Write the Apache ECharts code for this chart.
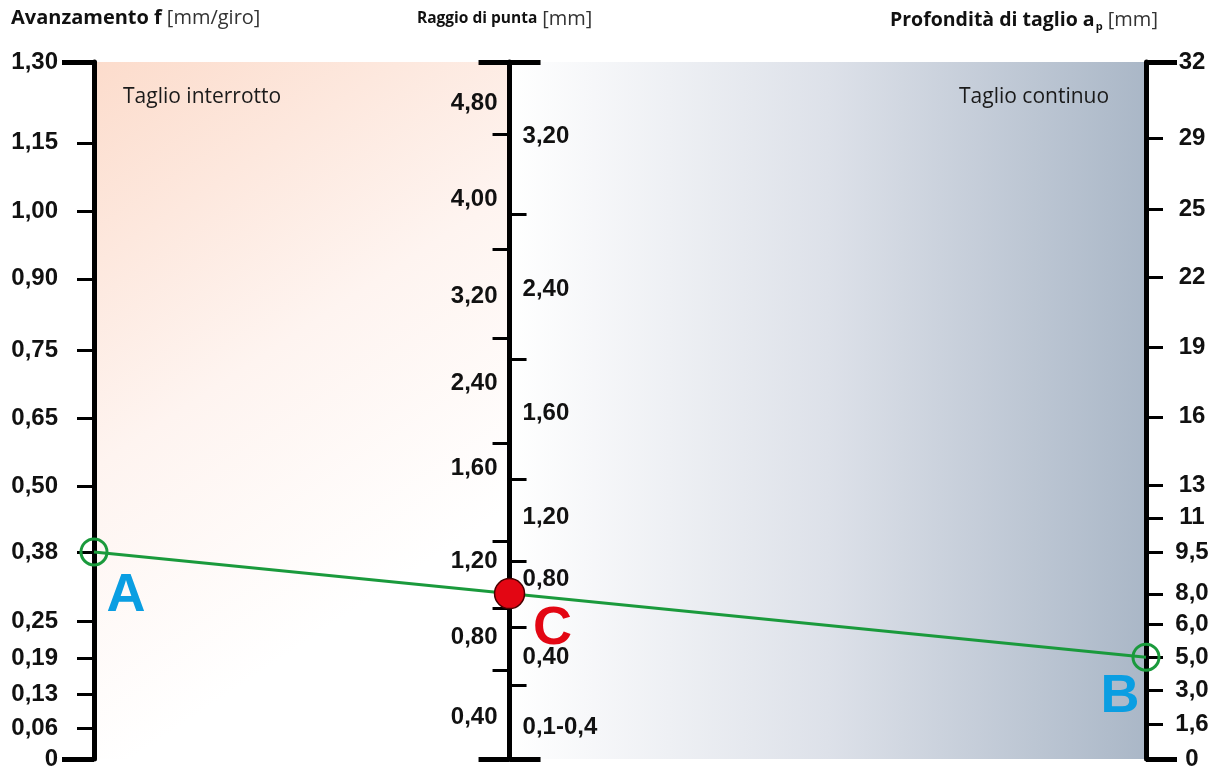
<!DOCTYPE html>
<html>
<head>
<meta charset="utf-8">
<script src="https://cdn.jsdelivr.net/npm/echarts@6/dist/echarts.min.js"></script>
<style>
html,body{margin:0;padding:0;background:#fff;}
#chart{width:1220px;height:771px;}
</style>
</head>
<body>
<div id="chart"></div>
<script>
// ---- Data (positions along each scale as fraction of the scale length, 0 = bottom, 1 = top) ----
const feedLabels = ['1,30','1,15','1,00','0,90','0,75','0,65','0,50','0,38','0,25','0,19','0,13','0,06','0'];
const feedPos    = [1, 0.884, 0.786, 0.689, 0.586, 0.489, 0.391, 0.297, 0.197, 0.144, 0.093, 0.044, 0];

const radiusLeftLabels    = ['4,80','4,00','3,20','2,40','1,60','1,20','0,80','0,40'];
const radiusLeftLabelPos  = [0.941, 0.803, 0.664, 0.539, 0.417, 0.284, 0.174, 0.060];
const radiusLeftTickPos   = [0.897, 0.731, 0.604, 0.453, 0.313, 0.216, 0.127];
const radiusRightLabels   = ['3,20','2,40','1,60','1,20','0,80','0,40','0,1-0,4'];
const radiusRightLabelPos = [0.893, 0.674, 0.496, 0.346, 0.257, 0.146, 0.046];
const radiusRightTickPos  = [0.781, 0.573, 0.401, 0.283, 0.189, 0.106];

const depthLabels = ['32','29','25','22','19','16','13','11','9,5','8,0','6,0','5,0','3,0','1,6','0'];
const depthPos    = [1, 0.890, 0.789, 0.691, 0.591, 0.491, 0.393, 0.346, 0.297, 0.237, 0.193, 0.146, 0.099, 0.050, 0];

const readingFeed  = '0,38';   // point A
const readingDepth = '5,0';    // point B

// ---- Nomogram geometry ----
const scaleX = { feed: 0, radius: 0.395, depth: 1 };
const posA = feedPos[feedLabels.indexOf(readingFeed)];
const posB = depthPos[depthLabels.indexOf(readingDepth)];
const posC = posA + (posB - posA) * (scaleX.radius - scaleX.feed) / (scaleX.depth - scaleX.feed);

const chart = echarts.init(document.getElementById('chart'), null, {renderer:'canvas'});

const GRID = {left:94, right:74, top:62, bottom:9};
const plotW = 1220 - GRID.left - GRID.right;
const midOffset = -(scaleX.radius * plotW);

const labelFont = {fontFamily:'"Liberation Sans", Arial, sans-serif', fontWeight:'bold', fontSize:24, color:'#111'};
function fmt(labels, pos){
  return function(v){
    const i = pos.findIndex(p => Math.abs(p - v) < 1e-9);
    return i >= 0 ? labels[i] : '';
  };
}
function baseY(extra){
  return Object.assign({
    type:'value', min:0, max:1, gridIndex:0,
    splitLine:{show:false},
    axisLine:{show:false},
    axisTick:{show:false},
    axisLabel:{show:false}
  }, extra);
}
const lineStyle = {color:'#000', width:5};
const tickStyle = {color:'#000', width:3};
const capStyle  = {color:'#000', width:5};

const yAxes = [
  // feed scale
  baseY({position:'left', z:3,
    axisLine:{show:true, onZero:false, lineStyle:lineStyle},
    axisTick:{show:true, length:17, lineStyle:tickStyle, customValues:feedPos.slice(1,-1)},
    axisLabel:Object.assign({show:true, margin:36, customValues:feedPos, formatter:fmt(feedLabels, feedPos), showMinLabel:true, showMaxLabel:true, hideOverlap:false}, labelFont)
  }),
  baseY({position:'left', z:3,
    axisTick:{show:true, length:32, lineStyle:capStyle, customValues:[0,1]}
  }),
  // radius scale (left side)
  baseY({position:'left', offset:midOffset, z:3,
    axisLine:{show:true, onZero:false, lineStyle:lineStyle},
    axisTick:{show:true, length:17, lineStyle:tickStyle, customValues:radiusLeftTickPos},
    axisLabel:Object.assign({show:true, margin:12, customValues:radiusLeftLabelPos, formatter:fmt(radiusLeftLabels, radiusLeftLabelPos), showMinLabel:true, showMaxLabel:true, hideOverlap:false}, labelFont)
  }),
  baseY({position:'left', offset:midOffset, z:3,
    axisTick:{show:true, length:31, lineStyle:capStyle, customValues:[0,1]}
  }),
  // radius scale (right side)
  baseY({position:'left', offset:midOffset, z:3,
    axisTick:{show:true, inside:true, length:17, lineStyle:tickStyle, customValues:radiusRightTickPos},
    axisLabel:Object.assign({show:true, inside:true, margin:13, customValues:radiusRightLabelPos, formatter:fmt(radiusRightLabels, radiusRightLabelPos), showMinLabel:true, showMaxLabel:true, hideOverlap:false}, labelFont)
  }),
  baseY({position:'left', offset:midOffset, z:3,
    axisTick:{show:true, inside:true, length:31, lineStyle:capStyle, customValues:[0,1]}
  }),
  // depth scale
  baseY({position:'right', z:3,
    axisLine:{show:true, onZero:false, lineStyle:lineStyle},
    axisTick:{show:true, length:17, lineStyle:tickStyle, customValues:depthPos.slice(1,-1)},
    axisLabel:Object.assign({show:true, margin:46, align:'center', customValues:depthPos, formatter:fmt(depthLabels, depthPos), showMinLabel:true, showMaxLabel:true, hideOverlap:false}, labelFont)
  }),
  baseY({position:'right', z:3,
    axisTick:{show:true, length:31, lineStyle:capStyle, customValues:[0,1]}
  })
];

const titleFont = 'Open Sans';
const option = {
  animation:false,
  backgroundColor:'#ffffff',
  title:[
    {text:'{b|Avanzamento f} {r|[mm/giro]}', left:11, top:8, padding:0, z:10,
     textStyle:{fontWeight:'normal', rich:{b:{fontFamily:titleFont, fontWeight:'bold', fontSize:20, color:'#111'}, r:{fontFamily:titleFont, fontWeight:'normal', fontSize:20, color:'#333'}}}},
    {text:'{b|Raggio di punta} {r|[mm]}', left:417, top:9, padding:0, z:10,
     textStyle:{fontWeight:'normal', rich:{b:{fontFamily:titleFont, fontWeight:'bold', fontSize:15.5, color:'#111'}, r:{fontFamily:titleFont, fontWeight:'normal', fontSize:20, color:'#333'}}}},
    {text:'{b|Profondità di taglio a}{s|p}{r| [mm]}', left:890, top:8, padding:0, z:10,
     textStyle:{fontWeight:'normal', rich:{b:{fontFamily:titleFont, fontWeight:'bold', fontSize:19.5, color:'#111'}, s:{fontFamily:titleFont, fontWeight:'bold', fontSize:11, color:'#111', padding:[13,0,0,1]}, r:{fontFamily:titleFont, fontWeight:'normal', fontSize:20, color:'#333'}}}},
    {text:'Taglio interrotto', left:123, top:87, padding:0, z:10,
     textStyle:{fontFamily:titleFont, fontWeight:'normal', fontSize:21, color:'#1a1a1a'}},
    {text:'Taglio continuo', left:959, top:87, padding:0, z:10,
     textStyle:{fontFamily:titleFont, fontWeight:'normal', fontSize:21, color:'#1a1a1a'}}
  ],
  grid:GRID,
  xAxis:{type:'value', min:0, max:1, show:false},
  yAxis:yAxes,
  series:[
    {type:'line', data:[], z:-1, silent:true,
     markArea:{silent:true, data:[
       [{xAxis:scaleX.feed, yAxis:-0.002, itemStyle:{color:new echarts.graphic.LinearGradient(0,0,1,0.9,[
          {offset:0, color:'#fcdccc'},{offset:0.45, color:'#fef4f0'},{offset:0.8, color:'#ffffff'},{offset:1, color:'#ffffff'}])}},
        {xAxis:scaleX.radius, yAxis:1.003}],
       [{xAxis:scaleX.radius, yAxis:-0.002, itemStyle:{color:new echarts.graphic.LinearGradient(0,0,1,0,[
          {offset:0, color:'#ffffff'},{offset:0.5, color:'#dde1e9'},{offset:1, color:'#aab7c7'}])}},
        {xAxis:scaleX.depth, yAxis:1.003}]
     ]}},
    {type:'line', data:[[scaleX.feed, posA],[scaleX.depth, posB]], showSymbol:false, z:4,
     lineStyle:{color:'#1a9a3c', width:3}},
    {type:'scatter', z:5, symbol:'circle', symbolSize:26,
     itemStyle:{color:'rgba(0,0,0,0)', borderColor:'#1a9a3c', borderWidth:3, opacity:1},
     data:[
       {value:[scaleX.feed, posA], label:{show:true, formatter:'A', position:'inside', offset:[32,44], fontFamily:'"Liberation Sans", Arial, sans-serif', fontWeight:'bold', fontSize:54, color:'#0a9ee2'}},
       {value:[scaleX.depth, posB], label:{show:true, formatter:'B', position:'inside', offset:[-26,40], fontFamily:'"Liberation Sans", Arial, sans-serif', fontWeight:'bold', fontSize:54, color:'#0a9ee2'}}
     ]},
    {type:'scatter', z:6, symbol:'circle', symbolSize:30,
     itemStyle:{color:'#e30613', borderColor:'#4a0000', borderWidth:1.5, opacity:1},
     data:[{value:[scaleX.radius, posC], label:{show:true, formatter:'C', position:'inside', offset:[43,36], fontFamily:'"Liberation Sans", Arial, sans-serif', fontWeight:'bold', fontSize:54, color:'#e30613'}}]}
  ]
};
chart.setOption(option);
</script>
</body>
</html>
